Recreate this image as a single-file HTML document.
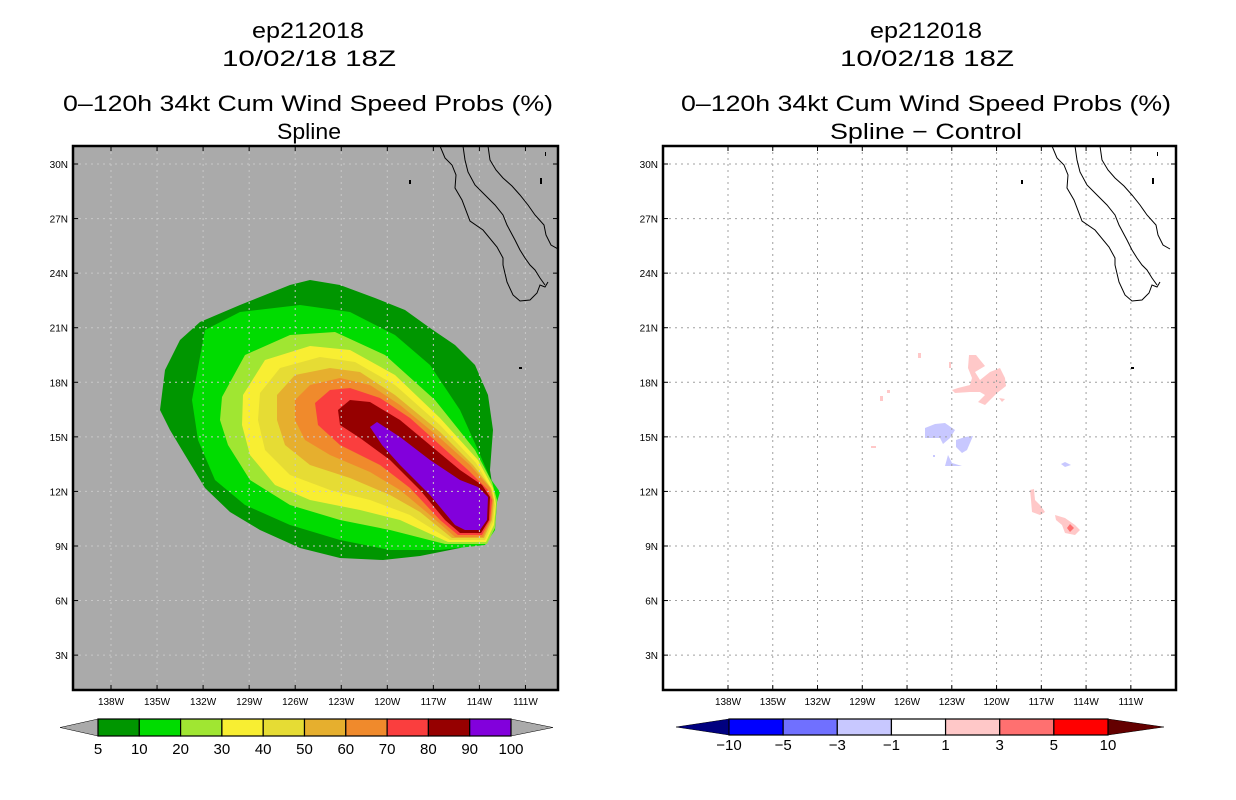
<!DOCTYPE html>
<html><head><meta charset="utf-8"><style>
html,body{margin:0;padding:0;background:#fff;}
svg{display:block;font-family:"Liberation Sans",sans-serif;}
</style></head><body>
<svg id="s" width="1236" height="800" viewBox="0 0 1236 800" xmlns="http://www.w3.org/2000/svg">
<defs>
<clipPath id="cl"><rect x="73" y="146" width="485" height="544"/></clipPath>
<clipPath id="cr"><rect x="663" y="146" width="513" height="544"/></clipPath>
</defs>
<g font-size="22" text-anchor="middle" fill="#000">
<text x="308" y="38" textLength="112" lengthAdjust="spacingAndGlyphs">ep212018</text>
<text x="309" y="66" textLength="174" lengthAdjust="spacingAndGlyphs">10/02/18 18Z</text>
<text x="308" y="111" textLength="490" lengthAdjust="spacingAndGlyphs">0–120h 34kt Cum Wind Speed Probs (%)</text>
<text x="309" y="139" textLength="64" lengthAdjust="spacingAndGlyphs">Spline</text>
</g>
<g font-size="22" text-anchor="middle" fill="#000">
<text x="926" y="38" textLength="112" lengthAdjust="spacingAndGlyphs">ep212018</text>
<text x="927" y="66" textLength="174" lengthAdjust="spacingAndGlyphs">10/02/18 18Z</text>
<text x="926" y="111" textLength="490" lengthAdjust="spacingAndGlyphs">0–120h 34kt Cum Wind Speed Probs (%)</text>
<text x="926" y="139" textLength="192" lengthAdjust="spacingAndGlyphs">Spline − Control</text>
</g>
<rect x="73" y="146" width="485" height="544" fill="#aaaaaa"/>
<g id="lcont" clip-path="url(#cl)"></g>
<g id="lgrid" clip-path="url(#cl)"></g>
<g id="lcoast" clip-path="url(#cl)"></g>
<rect x="73" y="146" width="485" height="544" fill="none" stroke="#000" stroke-width="2.5"/>
<rect x="663" y="146" width="513" height="544" fill="#fff"/>
<g id="rcont" clip-path="url(#cr)"></g>
<g id="rgrid" clip-path="url(#cr)"></g>
<g id="rcoast" clip-path="url(#cr)"></g>
<rect x="663" y="146" width="513" height="544" fill="none" stroke="#000" stroke-width="2.5"/>
<g id="labels" font-size="10" fill="#000"></g>
<g id="lbar"></g>
<g id="rbar"></g>
</svg>
<script>
const latTicks=[30,27,24,21,18,15,12,9,6,3];
const lonTicks=[138,135,132,129,126,123,120,117,114,111];
const leftLevels=[5,10,20,30,40,50,60,70,80,90,100];
const leftColors=["#009600","#00dc00","#a0e632","#f8ee32","#e6dc34","#e6af2e","#f08a2c","#fa3e3e","#960000","#8200dc"];
const rightLevels=[-10,-5,-3,-1,1,3,5,10];
const rightColors=["#0000ff","#7070ff","#c8c8ff","#ffffff","#ffc8c8","#ff7070","#ff0000"];
const NS="http://www.w3.org/2000/svg";
function mk(tag,attrs,parent){const e=document.createElementNS(NS,tag);for(const k in attrs)e.setAttribute(k,attrs[k]);parent.appendChild(e);return e;}
function yLat(lat){return 164+(30-lat)*18.19;}
function xLonL(lon){return 111+(138-lon)*15.35;}
function xLonR(lon){return 728+(138-lon)*14.92;}

const contoursLeft=[
"160,410 165,370 180,340 200,322 240,305 290,285 310,280 340,285 375,298 405,310 430,328 455,345 475,365 488,395 493,430 490,470 493,490 497,500 495,520 480,540 460,548 420,556 383,560 340,558 300,548 260,530 230,512 205,488 185,455 170,430",
"192,400 205,330 240,312 300,305 350,312 395,335 430,365 460,410 478,450 490,478 500,492 497,502 495,530 485,545 440,550 390,550 340,540 290,525 245,505 215,480 198,440",
"222,397 245,355 290,335 335,332 385,355 435,400 475,450 492,482 497,500 495,528 487,544 445,544 390,530 340,520 290,505 250,480 228,445 220,420",
"243,395 265,360 310,346 350,350 395,375 440,418 478,460 493,488 496,504 494,525 486,542 448,542 400,520 360,510 310,500 275,485 250,455 242,425",
"260,393 280,368 320,357 355,362 395,385 440,425 476,463 492,490 495,505 493,522 485,540 450,540 410,515 370,500 330,490 290,475 265,450 258,420",
"277,395 295,375 330,368 360,372 395,395 440,432 473,465 491,488 494,500 492,520 484,538 452,538 420,512 390,495 350,478 310,465 285,445 277,420",
"295,400 310,385 340,378 370,385 400,405 440,438 470,465 490,488 493,500 491,520 483,537 455,537 430,515 400,490 370,472 330,455 305,440 295,420",
"315,403 330,390 350,388 380,398 410,418 440,445 468,470 488,490 492,500 490,520 482,535 458,535 440,520 410,488 380,465 340,445 318,425",
"338,410 350,400 370,402 400,420 430,445 460,470 482,485 490,497 489,520 481,533 460,533 445,520 420,490 390,460 360,438 340,425",
"370,427 377,422 400,437 430,460 460,480 478,487 488,497 487,520 480,530 465,530 455,525 430,495 400,465 382,445"
];
const lc=document.getElementById('lcont');
contoursLeft.forEach((p,i)=>{const e=mk('polygon',{points:p,fill:leftColors[i]},lc);

});

const rc=document.getElementById('rcont');
const pink=["969,355 976,355 985,366 975,372 980,380 990,372 1000,368 1005,378 1006,386 997,393 990,400 985,405 978,402 985,395 980,392 970,392 955,393 952,390 958,388 970,385 972,378 968,368",
"918,353 921,353 921,358 918,358","949,362 951,362 951,368 949,368","880,396 883,396 883,401 880,401","887,390 890,390 890,393 887,393","999,398 1005,399 1002,402",
"1030,490 1034,489 1035,500 1040,505 1045,512 1040,515 1032,512 1031,500","1055,515 1065,518 1075,525 1080,530 1075,535 1065,533 1062,525 1056,520","871,446 876,446 876,448 871,448"];
const blue=["925,428 935,424 945,423 955,430 950,438 943,444 940,438 935,438 925,438","956,440 965,437 973,436 967,450 962,453 956,447","948,455 952,463 962,466 945,466","1061,464 1065,462 1071,465 1065,467","933,455 935,455 935,457 933,457"];
pink.forEach(p=>{const e=mk('polygon',{points:p,fill:rightColors[4]},rc);

});
blue.forEach(p=>{const e=mk('polygon',{points:p,fill:rightColors[2]},rc);

});
const rd=mk('polygon',{points:"1067,528 1070,524 1074,528 1070,532",fill:rightColors[5]},rc);



function grid(g,xf,x0,x1,col){
  latTicks.forEach(l=>{const y=yLat(l);const e=mk('line',{x1:x0,x2:x1,y1:y,y2:y,stroke:col,'stroke-width':1,'stroke-dasharray':'2,4'},g);
  
  mk('line',{x1:x0,x2:x0+5,y1:y,y2:y,stroke:'#000'},g);mk('line',{x1:x1-5,x2:x1,y1:y,y2:y,stroke:'#000'},g);});
  lonTicks.forEach(l=>{const x=xf(l);const e=mk('line',{x1:x,x2:x,y1:146,y2:690,stroke:col,'stroke-width':1,'stroke-dasharray':'2,4'},g);
  
  mk('line',{x1:x,x2:x,y1:146,y2:151,stroke:'#000'},g);mk('line',{x1:x,x2:x,y1:685,y2:690,stroke:'#000'},g);});
}
grid(document.getElementById('lgrid'),xLonL,73,558,'#c8c8c8');
grid(document.getElementById('rgrid'),xLonR,663,1176,'#a0a0a0');

const coast=["440,146 445,158 452,165 456,175 455,188 462,200 470,221 483,230 497,247 503,258 503,265 507,282 513,295 520,301 530,300 537,293 540,285 545,287 548,282",
"463,146 465,160 468,172 475,185 485,195 495,205 503,215 507,225 515,240 520,250 525,258 530,265 535,270 540,278 545,285",
"488,146 490,160 496,170 503,178 512,186 520,195 528,205 535,215 544,225 546,235 551,245 558,249"];
const isles=["409,180 411,180 411,184 409,184","540,178 542,178 542,184 540,184","545,152 546,152 546,156 545,156","519,367 522,367 522,369 519,369"];
[['lcoast',0],['rcoast',612]].forEach(([id,dx])=>{const g=document.getElementById(id);
coast.forEach(c=>{const e=mk('polyline',{points:c,fill:'none',stroke:'#000','stroke-width':1,transform:'translate('+dx+',0)'},g);
});
isles.forEach(c=>{const e=mk('polygon',{points:c,fill:'#000',transform:'translate('+dx+',0)'},g);
});});

const lab=document.getElementById('labels');
[[68,xLonL],[658,xLonR]].forEach(([xr,xf])=>{
 latTicks.forEach(l=>{const t=mk('text',{x:xr,y:yLat(l)+4,'text-anchor':'end'},lab);t.textContent=l+'N';
 });
 lonTicks.forEach(l=>{const t=mk('text',{x:xf(l),y:705,'text-anchor':'middle'},lab);t.textContent=l+'W';
 });
});

function bar(g,levels,colors,x0,x1,y0,y1,lt,rt,lcol,rcol,ly){
 const n=colors.length,w=(x1-x0)/n,ym=(y0+y1)/2;
 const a=mk('polygon',{points:`${x0},${y0} ${x0},${y1} ${lt},${ym}`,fill:lcol,stroke:'#000','stroke-width':0.5},g);
 
 const b=mk('polygon',{points:`${x1},${y0} ${x1},${y1} ${rt},${ym}`,fill:rcol,stroke:'#000','stroke-width':0.5},g);
 
 colors.forEach((c,i)=>{const r=mk('rect',{x:x0+i*w,y:y0,width:w,height:y1-y0,fill:c,stroke:'#000','stroke-width':1.2},g);
 });
 levels.forEach((v,i)=>{const t=mk('text',{x:x0+i*w,y:ly,'text-anchor':'middle','font-size':15},g);t.textContent=String(v).replace('-','−');
 });
}
bar(document.getElementById('lbar'),leftLevels,leftColors,98,511,719,736,60,553,'#aaaaaa','#aaaaaa',754);
bar(document.getElementById('rbar'),rightLevels,rightColors,729,1108,719,735,676,1164,'#000080','#640000',750);
</script>
</body></html>
